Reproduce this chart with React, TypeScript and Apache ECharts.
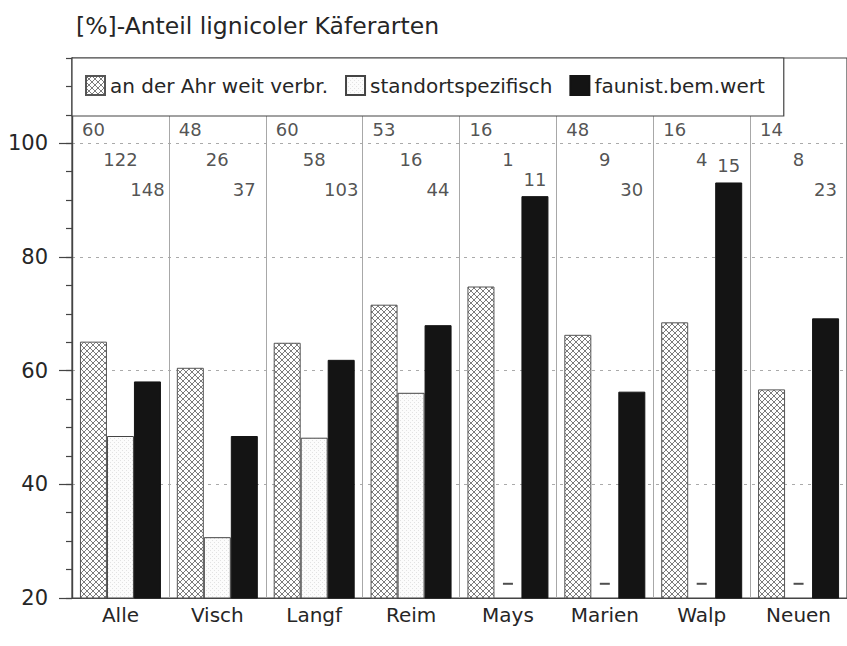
import React, { useEffect, useRef } from "react";
import * as echarts from "echarts";

// ---- data ----
const categories = ["Alle", "Visch", "Langf", "Reim", "Mays", "Marien", "Walp", "Neuen"];
const seriesNames = ["an der Ahr weit verbr.", "standortspezifisch", "faunist.bem.wert"];
// percentage values (y axis)
const weitVerbr = [65.1, 60.5, 64.9, 71.6, 74.8, 66.3, 68.5, 56.7];
const standort = [48.5, 30.7, 48.2, 56.1, 0, 0, 0, 0];
const faunist = [58.1, 48.5, 61.9, 68.0, 90.7, 56.3, 93.1, 69.2];
// species counts printed above each group
const weitCounts = [60, 48, 60, 53, 16, 48, 16, 14];
const standortCounts = [122, 26, 58, 16, 1, 9, 4, 8];
const faunistCounts = [148, 37, 103, 44, 11, 30, 15, 23];
// y-axis tick labels
const yTicks = [20, 40, 60, 80, 100];

const TITLE = "[%]-Anteil lignicoler Käferarten";
const FONT = "DejaVu Sans";
const TEXT = "#262626";
const BAR_W = 27;

function makeHatch(): HTMLCanvasElement {
  const c = document.createElement("canvas");
  c.width = 6;
  c.height = 6;
  const g = c.getContext("2d")!;
  g.fillStyle = "#ffffff";
  g.fillRect(0, 0, 6, 6);
  g.strokeStyle = "#5a5a5a";
  g.lineWidth = 0.8;
  g.beginPath();
  g.moveTo(0, 0);
  g.lineTo(6, 6);
  g.moveTo(6, 0);
  g.lineTo(0, 6);
  g.stroke();
  return c;
}

function makeDots(): HTMLCanvasElement {
  const c = document.createElement("canvas");
  c.width = 4;
  c.height = 4;
  const g = c.getContext("2d")!;
  g.fillStyle = "#fcfcfc";
  g.fillRect(0, 0, 4, 4);
  g.fillStyle = "#e2e2e2";
  g.fillRect(0, 0, 1, 1);
  g.fillRect(2, 2, 1, 1);
  return c;
}

export default function App() {
  const ref = useRef<HTMLDivElement>(null);

  useEffect(() => {
    if (!ref.current) return;
    const chart = echarts.init(ref.current, undefined, { renderer: "svg" });

    const row1 = 102.5;
    const row2 = 97.2;
    const row3 = 91.9;
    const zeroMark = 22.5;

    const countSeries = (counts: number[], level: (i: number) => number, dx: number) => ({
      type: "scatter",
      data: counts.map((c, i) => [i, level(i), c]),
      symbolSize: 1,
      itemStyle: { color: "rgba(0,0,0,0)" },
      silent: true,
      z: 5,
      label: {
        show: true,
        position: "inside",
        offset: [dx, 0],
        formatter: (p: any) => String(p.value[2]),
        fontFamily: FONT,
        fontSize: 18,
        color: TEXT,
      },
    });

    const option: any = {
      animation: false,
      backgroundColor: "#ffffff",
      title: {
        text: TITLE,
        left: 76,
        top: 14,
        padding: 0,
        textStyle: { fontFamily: FONT, fontSize: 23.5, fontWeight: "normal", color: TEXT },
      },
      legend: {
        data: seriesNames,
        left: 72,
        top: 58,
        icon: "rect",
        itemWidth: 19,
        itemHeight: 19,
        itemGap: 17,
        padding: [17, 19, 20, 13],
        backgroundColor: "#ffffff",
        borderColor: "#444",
        borderWidth: 1.2,
        textStyle: { fontFamily: FONT, fontSize: 20, color: TEXT },
        selectedMode: false,
      },
      grid: {
        left: 72,
        top: 58,
        right: -7.4,
        bottom: 48,
        show: true,
        borderColor: "#444",
        borderWidth: 1.2,
        backgroundColor: "rgba(0,0,0,0)",
      },
      xAxis: {
        type: "category",
        data: categories,
        axisLine: { lineStyle: { color: "#444", width: 1.2 } },
        axisTick: { show: false },
        axisLabel: { fontFamily: FONT, fontSize: 20, color: TEXT, margin: 7 },
        splitLine: { show: true, lineStyle: { color: "#a8a8a8", width: 1 } },
      },
      yAxis: [
        {
          type: "value",
          min: 20,
          max: 115,
          interval: 20,
          axisLine: { show: true, lineStyle: { color: "#444", width: 1.2 } },
          axisTick: {
            show: true,
            length: 13,
            customValues: yTicks,
            lineStyle: { color: "#444", width: 1.2 },
          },
          axisLabel: {
            fontFamily: FONT,
            fontSize: 21,
            color: TEXT,
            margin: 24,
            formatter: (v: number) => (yTicks.indexOf(v) >= 0 ? String(v) : ""),
          },
          splitLine: { show: true, lineStyle: { color: "#aaa", type: [3, 5], width: 1 } },
        },
        {
          type: "value",
          min: 20,
          max: 115,
          interval: 5,
          position: "left",
          offset: 0,
          axisLine: { show: true, lineStyle: { color: "#444", width: 1.2 } },
          axisTick: { show: true, length: 6, lineStyle: { color: "#444", width: 1.2 } },
          axisLabel: { show: false },
          splitLine: { show: false },
        },
      ],
      series: [
        {
          name: seriesNames[0],
          type: "bar",
          data: weitVerbr,
          barWidth: BAR_W,
          barGap: 0,
          itemStyle: {
            color: { image: makeHatch(), repeat: "repeat" },
            borderColor: "#555",
            borderWidth: 1,
          },
        },
        {
          name: seriesNames[1],
          type: "bar",
          data: standort.map((v) => (v > 0 ? v : null)),
          barWidth: BAR_W,
          barGap: 0,
          itemStyle: {
            color: { image: makeDots(), repeat: "repeat" },
            borderColor: "#444",
            borderWidth: 1,
          },
        },
        {
          name: seriesNames[2],
          type: "bar",
          data: faunist,
          barWidth: BAR_W,
          barGap: 0,
          itemStyle: { color: "#141414", borderColor: "#141414", borderWidth: 1 },
        },
        {
          type: "scatter",
          data: standort.map((v, i) => (v > 0 ? null : [i, zeroMark])).filter((d) => d),
          symbol: "rect",
          symbolSize: [10, 2],
          itemStyle: { color: "#222" },
          silent: true,
          z: 4,
        },
        countSeries(weitCounts, () => row1, -BAR_W),
        countSeries(standortCounts, () => row2, 0),
        countSeries(faunistCounts, (i) => Math.max(row3, faunist[i] + 3), BAR_W),
      ],
    };

    chart.setOption(option);
    return () => chart.dispose();
  }, []);

  return (
    <div
      ref={ref}
      style={{ position: "absolute", left: 0, top: 0, width: 847, height: 646 }}
    />
  );
}
